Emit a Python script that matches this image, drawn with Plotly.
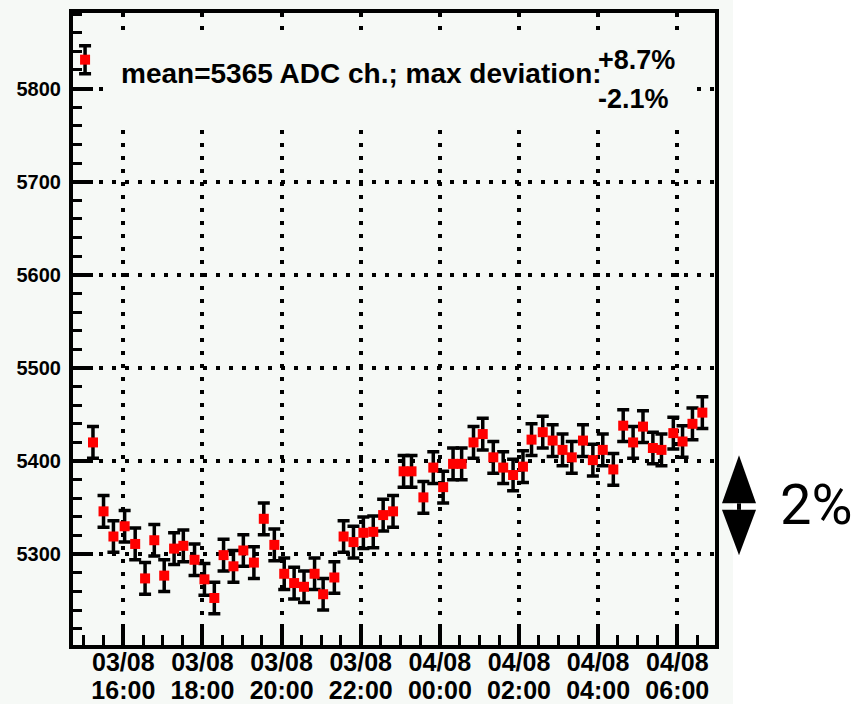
import plotly.graph_objects as go

# ADC mean of the monitored channel, sampled roughly every quarter hour
times = [
    "2008-08-03 15:02", "2008-08-03 15:14", "2008-08-03 15:30", "2008-08-03 15:45",
    "2008-08-03 16:02", "2008-08-03 16:18", "2008-08-03 16:33", "2008-08-03 16:47",
    "2008-08-03 17:02", "2008-08-03 17:17", "2008-08-03 17:31", "2008-08-03 17:48",
    "2008-08-03 18:03", "2008-08-03 18:18", "2008-08-03 18:32", "2008-08-03 18:47",
    "2008-08-03 19:02", "2008-08-03 19:18", "2008-08-03 19:33", "2008-08-03 19:49",
    "2008-08-03 20:04", "2008-08-03 20:19", "2008-08-03 20:34", "2008-08-03 20:50",
    "2008-08-03 21:03", "2008-08-03 21:20", "2008-08-03 21:34", "2008-08-03 21:49",
    "2008-08-03 22:04", "2008-08-03 22:19", "2008-08-03 22:34", "2008-08-03 22:49",
    "2008-08-03 23:05", "2008-08-03 23:17", "2008-08-03 23:35", "2008-08-03 23:50",
    "2008-08-04 00:05", "2008-08-04 00:20", "2008-08-04 00:33", "2008-08-04 00:51",
    "2008-08-04 01:05", "2008-08-04 01:21", "2008-08-04 01:36", "2008-08-04 01:51",
    "2008-08-04 02:06", "2008-08-04 02:19", "2008-08-04 02:36", "2008-08-04 02:51",
    "2008-08-04 03:06", "2008-08-04 03:20", "2008-08-04 03:37", "2008-08-04 03:52",
    "2008-08-04 04:07", "2008-08-04 04:23", "2008-08-04 04:38", "2008-08-04 04:53",
    "2008-08-04 05:08", "2008-08-04 05:23", "2008-08-04 05:36", "2008-08-04 05:54",
    "2008-08-04 06:08", "2008-08-04 06:23", "2008-08-04 06:38",
]
adc = [
    5831, 5420, 5346, 5319, 5330, 5311, 5274, 5315,
    5277, 5306, 5309, 5294, 5273, 5253, 5299, 5287,
    5304, 5291, 5338, 5310, 5279, 5269, 5265, 5279,
    5257, 5275, 5319, 5313, 5323, 5324, 5342, 5346,
    5389, 5389, 5361, 5393, 5372, 5397, 5397, 5420,
    5429, 5404, 5393, 5385, 5394, 5423, 5431, 5422,
    5412, 5404, 5422, 5401, 5412, 5391, 5438, 5420,
    5437, 5414, 5412, 5430, 5421, 5440, 5452,
]
adc_err = [15] + [17] * (len(adc) - 1)

mean_adc = 5365
dev_plus = "+8.7%"
dev_minus = "-2.1%"
scale_frac = 0.02  # length of the reference arrow, fraction of the mean

major_ticks = [
    "2008-08-03 16:00", "2008-08-03 18:00", "2008-08-03 20:00", "2008-08-03 22:00",
    "2008-08-04 00:00", "2008-08-04 02:00", "2008-08-04 04:00", "2008-08-04 06:00",
]
date_labels = ["03/08", "03/08", "03/08", "03/08", "04/08", "04/08", "04/08", "04/08"]
hour_labels = ["16:00", "18:00", "20:00", "22:00", "00:00", "02:00", "04:00", "06:00"]
y_ticks = [5300, 5400, 5500, 5600, 5700, 5800]
x_range = ["2008-08-03 14:43:42", "2008-08-04 06:57:11"]

# ---- layout geometry (pixels) ----
W, H = 859, 704
L, R, T, B = 73, 715, 13, 645
PW, PH = R - L, B - T


def px(x):
    return (x - L) / PW


def py(y):
    return (B - y) / PH


BG = "#f6f9f6"
FONT = "Liberation Sans"

fig = go.Figure()
fig.add_trace(go.Scatter(
    x=times, y=adc, mode="markers",
    marker=dict(symbol="square", size=10, color="#ff0000", line=dict(width=0)),
    error_y=dict(type="data", array=adc_err, visible=True,
                 color="black", thickness=3.5, width=6),
    showlegend=False,
))
# empty series that carries the hour row of the time axis
fig.add_trace(go.Scatter(
    x=[major_ticks[0]], y=[None], xaxis="x2", mode="markers",
    showlegend=False, hoverinfo="skip",
))

axis_common = dict(
    showline=True, linecolor="black", linewidth=4, mirror=True,
    showgrid=True, gridcolor="black", gridwidth=3.5, griddash="4px,9px",
    zeroline=False, ticks="inside", tickcolor="black", tickwidth=4, ticklen=20,
    automargin=False,
)
xfont = dict(family=FONT, size=25, color="black", weight="bold")

# date row of the time axis
fig.update_xaxes(
    type="date", range=x_range,
    tickmode="array", tickvals=major_ticks, ticktext=date_labels,
    tickfont=xfont, ticklabelstandoff=-8,
    minor=dict(dtick=30 * 60 * 1000, tick0="2008-08-03 16:00", ticks="inside",
               ticklen=10, tickwidth=3, tickcolor="black", showgrid=False),
    **axis_common,
)
# hour row of the time axis
fig.update_layout(xaxis2=dict(
    type="date", range=x_range, overlaying="x", anchor="y", side="bottom",
    tickmode="array", tickvals=major_ticks, ticktext=hour_labels,
    tickfont=xfont, ticklabelstandoff=28, ticks="",
    showline=False, showgrid=False, zeroline=False, automargin=False,
))
fig.update_yaxes(
    range=[5202.5, 5881.1],
    tickmode="array", tickvals=y_ticks, ticktext=[str(v) for v in y_ticks],
    tickfont=dict(family=FONT, size=20, color="black", weight="bold"),
    ticklabelstandoff=4,
    minor=dict(dtick=20, tick0=5300, ticks="inside", ticklen=9, tickwidth=3,
               tickcolor="black", showgrid=False),
    **axis_common,
)

shapes = [
    # canvas background
    dict(type="rect", xref="paper", yref="paper", layer="below",
         x0=px(0), x1=px(733), y0=py(H), y1=py(0),
         fillcolor=BG, line=dict(width=0)),
    # statistics box
    dict(type="rect", xref="paper", yref="paper", layer="above",
         x0=px(107), x1=px(695), y0=py(128), y1=py(31),
         fillcolor=BG, line=dict(width=0)),
]

# double arrow spanning scale_frac of the mean value
c = 5352.6
half = scale_frac * mean_adc / 2
xl, xc, xr = px(722), px(739), px(756)
up_base, dn_base = c + 2, c - 5
shapes += [
    dict(type="path", xref="paper", yref="y", layer="above",
         path=f"M {xc},{c + half} L {xl},{up_base} L {xr},{up_base} Z",
         fillcolor="black", line=dict(width=0)),
    dict(type="path", xref="paper", yref="y", layer="above",
         path=f"M {xl},{dn_base} L {xr},{dn_base} L {xc},{c - half} Z",
         fillcolor="black", line=dict(width=0)),
    dict(type="rect", xref="paper", yref="y", layer="above",
         x0=px(737), x1=px(741), y0=dn_base, y1=up_base,
         fillcolor="black", line=dict(width=0)),
]

txt_font = dict(family=FONT, size=28, color="black", weight="bold")
annotations = [
    dict(text=f"mean={mean_adc} ADC ch.; max deviation:", xref="paper", yref="paper",
         x=px(119), y=py(74), xanchor="left", yanchor="middle",
         showarrow=False, font=txt_font),
    dict(text=dev_plus, xref="paper", yref="paper",
         x=px(596), y=py(60.5), xanchor="left", yanchor="middle",
         showarrow=False, font=dict(txt_font, size=27)),
    dict(text=dev_minus, xref="paper", yref="paper",
         x=px(596), y=py(98.5), xanchor="left", yanchor="middle",
         showarrow=False, font=dict(txt_font, size=27)),
    dict(text="2%", xref="paper", yref="paper",
         x=px(817), y=py(505), xanchor="center", yanchor="middle",
         showarrow=False, font=dict(family="Roboto", size=56, color="black")),
]

fig.update_layout(
    width=W, height=H,
    margin=dict(l=L, r=W - R, t=T, b=H - B, pad=0, autoexpand=False),
    paper_bgcolor="white", plot_bgcolor=BG,
    shapes=shapes, annotations=annotations,
)

fig.write_html("out.html")
